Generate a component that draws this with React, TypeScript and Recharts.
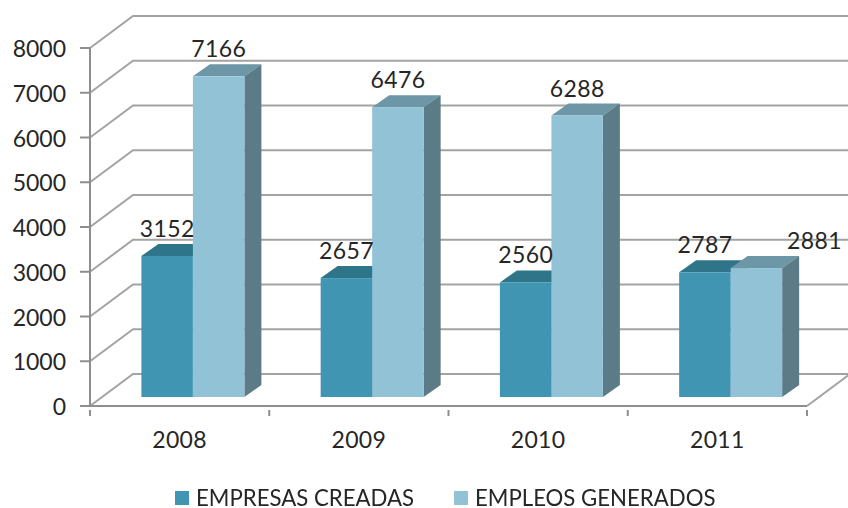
import { Bar, BarChart, CartesianGrid, LabelList, Legend, XAxis, YAxis } from "recharts";

const years = ["2008", "2009", "2010", "2011"];
const empresas = [3152, 2657, 2560, 2787];
const empleos = [7166, 6476, 6288, 2881];
const yTicks = [0, 1000, 2000, 3000, 4000, 5000, 6000, 7000, 8000];

const rows = years.map((year, i) => ({ year, empresas: empresas[i], empleos: empleos[i] }));

const WIDTH = 848;
const HEIGHT = 508;
const PLOT_W = 717;
const FONT = "Lato, sans-serif";
const INK = "#262626";
const GRID = "#a3a3a3";
const AXIS = "#8e8e8e";
const DIGITS = { fontFamily: FONT, fontSize: 23, letterSpacing: 0.4, fill: INK };

// fake 3D: the back wall sits up and to the right of the axes
const WALL_X = 43;
const WALL_Y = 32;
// bars stand in the middle of the floor, not on the front edge
const BAR_X = 13.4;
const BAR_Y = -9;
const DEPTH_X = 17;
const DEPTH_Y = 12;

const DARK = { front: "#4096b2", top: "#2f7589", side: "#2a6476" };
const LIGHT = { front: "#92c2d5", top: "#6d96a6", side: "#5b7b87" };

function wallLine(props: any) {
  const { x1, x2, y1, y2 } = props;
  const pts = `${x1},${y1} ${x1 + WALL_X},${y1 - WALL_Y} ${x2 + WALL_X},${y2 - WALL_Y}`;
  return (
    <g key={props.key ?? `wall-${y1}`}>
      <polyline points={pts} fill="none" stroke={GRID} strokeWidth={2} />
      {/* the floor's right edge */}
      {props.index === 0 && (
        <line x1={x2} y1={y2} x2={x2 + WALL_X} y2={y2 - WALL_Y} stroke={GRID} strokeWidth={2} />
      )}
    </g>
  );
}

function box(colors: typeof DARK) {
  return function BarBox(props: any) {
    const x = props.x + BAR_X;
    const y = props.y + BAR_Y;
    const w = props.width;
    const h = props.height;
    return (
      <g>
        <polygon
          points={`${x},${y} ${x + DEPTH_X},${y - DEPTH_Y} ${x + w + DEPTH_X},${y - DEPTH_Y} ${x + w},${y}`}
          fill={colors.top}
        />
        <polygon
          points={`${x + w},${y} ${x + w + DEPTH_X},${y - DEPTH_Y} ${x + w + DEPTH_X},${y + h - DEPTH_Y} ${x + w},${y + h}`}
          fill={colors.side}
        />
        <rect x={x} y={y} width={w} height={h} fill={colors.front} />
      </g>
    );
  };
}

function valueLabel(props: any) {
  const { x, y, width, value } = props;
  // the 2881 label was dragged off its bar in the original
  const nudge = value === 2881 ? 58 : 0;
  return (
    <text
      x={x + BAR_X + width / 2 + nudge}
      y={y + BAR_Y - 28}
      textAnchor="middle"
      dominantBaseline="central"
      {...DIGITS}
    >
      {value}
    </text>
  );
}

function yearTick(props: any) {
  const { x, y, index, payload } = props;
  const half = PLOT_W / years.length / 2;
  return (
    <g>
      <line x1={x - half} y1={y - 4} x2={x - half} y2={y + 2} stroke={AXIS} strokeWidth={2} />
      {index === years.length - 1 && (
        <line x1={x + half} y1={y - 4} x2={x + half} y2={y + 2} stroke={AXIS} strokeWidth={2} />
      )}
      <text x={x} y={y + 25} textAnchor="middle" dominantBaseline="central" {...DIGITS}>
        {payload.value}
      </text>
    </g>
  );
}

function legendRow() {
  const items = [
    { name: "EMPRESAS CREADAS", color: DARK.front },
    { name: "EMPLEOS GENERADOS", color: LIGHT.front },
  ];
  return (
    <div
      style={{
        display: "flex",
        alignItems: "center",
        fontFamily: FONT,
        fontSize: 22.2,
        lineHeight: "18px",
        color: INK,
        whiteSpace: "nowrap",
      }}
    >
      {items.map((item, i) => (
        <span key={item.name} style={{ display: "flex", alignItems: "center", marginLeft: i ? 40 : 0 }}>
          <span style={{ width: 14, height: 14, background: item.color, marginRight: 7 }} />
          {item.name}
        </span>
      ))}
    </div>
  );
}

export default function App() {
  return (
    <div style={{ position: "fixed", left: 0, top: 0, width: WIDTH, height: HEIGHT, background: "#fff" }}>
      <BarChart
        width={WIDTH}
        height={HEIGHT}
        data={rows}
        barSize={51.5}
        barGap={0}
        margin={{ top: 48, right: 41, left: 0, bottom: 44 }}
      >
        <CartesianGrid horizontal={wallLine} vertical={false} />
        <XAxis
          dataKey="year"
          height={40}
          tickLine={false}
          tick={yearTick}
          axisLine={{ stroke: AXIS, strokeWidth: 2 }}
        />
        <YAxis
          width={90}
          domain={[0, 8000]}
          ticks={yTicks}
          interval={0}
          tickSize={10}
          tickMargin={14}
          dy={1}
          tick={{ ...DIGITS, letterSpacing: 0 }}
          tickLine={{ stroke: AXIS, strokeWidth: 2 }}
          axisLine={{ stroke: AXIS, strokeWidth: 2 }}
        />
        <Legend content={legendRow} wrapperStyle={{ left: 175, top: 489, bottom: "auto", width: 600, height: 18 }} />
        <Bar dataKey="empresas" shape={box(DARK)} isAnimationActive={false}>
          <LabelList dataKey="empresas" content={valueLabel} />
        </Bar>
        <Bar dataKey="empleos" shape={box(LIGHT)} isAnimationActive={false}>
          <LabelList dataKey="empleos" content={valueLabel} />
        </Bar>
      </BarChart>
    </div>
  );
}
